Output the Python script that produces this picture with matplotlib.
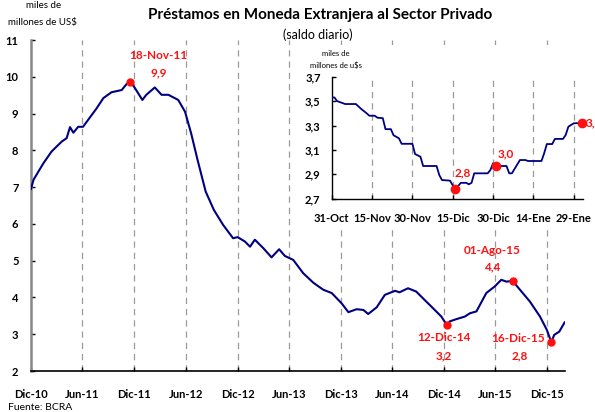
import matplotlib
matplotlib.use("Agg")
import matplotlib.pyplot as plt
import pandas as pd
from matplotlib.patches import Rectangle

plt.rcParams['font.family'] = ['Lato', 'DejaVu Sans']

# ---------------- data ----------------
main_dates = ["2010-12-01", "2010-12-10", "2010-12-27", "2011-01-14", "2011-02-12", "2011-03-20",
              "2011-04-06", "2011-04-18", "2011-04-30", "2011-05-17", "2011-06-03", "2011-06-28",
              "2011-07-21", "2011-08-14", "2011-09-12", "2011-10-18", "2011-11-04", "2011-11-18",
              "2011-12-04", "2011-12-30", "2012-01-13", "2012-02-12", "2012-03-07", "2012-03-31",
              "2012-05-05", "2012-05-29", "2012-06-20", "2012-07-12", "2012-08-10", "2012-09-08",
              "2012-10-11", "2012-11-15", "2012-12-01", "2012-12-27", "2013-01-14", "2013-01-31",
              "2013-03-02", "2013-03-31", "2013-04-27", "2013-05-17", "2013-06-16", "2013-07-21",
              "2013-08-26", "2013-09-30", "2013-10-30", "2013-12-04", "2013-12-28", "2014-01-26",
              "2014-02-19", "2014-03-08", "2014-04-07", "2014-05-06", "2014-06-11", "2014-06-27",
              "2014-07-27", "2014-08-25", "2014-09-24", "2014-10-23", "2014-11-22", "2014-12-12",
              "2014-12-22", "2015-01-14", "2015-02-13", "2015-03-03", "2015-03-26", "2015-04-30",
              "2015-05-30", "2015-06-22", "2015-07-10", "2015-08-01", "2015-08-27", "2015-10-01",
              "2015-11-06", "2015-11-30", "2015-12-11", "2015-12-16", "2015-12-26", "2016-01-13",
              "2016-02-01"]
main_values = [6.95, 7.20, 7.42, 7.65, 7.97, 8.24,
               8.33, 8.63, 8.48, 8.64, 8.64, 8.90,
               9.14, 9.42, 9.58, 9.64, 9.80, 9.87,
               9.69, 9.37, 9.51, 9.71, 9.51, 9.51,
               9.37, 9.05, 8.45, 7.75, 6.88, 6.38,
               5.97, 5.61, 5.64, 5.52, 5.38, 5.57,
               5.34, 5.09, 5.31, 5.13, 5.02, 4.66,
               4.40, 4.21, 4.12, 3.84, 3.60, 3.68,
               3.66, 3.55, 3.73, 4.07, 4.18, 4.14,
               4.25, 4.16, 3.93, 3.71, 3.48, 3.24,
               3.35, 3.41, 3.48, 3.57, 3.62, 4.12,
               4.30, 4.48, 4.43, 4.45, 4.21, 3.89,
               3.48, 3.12, 2.89, 2.78, 2.98, 3.07,
               3.32]

main_tick_dates = ["2010-12-01", "2011-06-01", "2011-12-01", "2012-06-01", "2012-12-01", "2013-06-01",
                   "2013-12-01", "2014-06-01", "2014-12-01", "2015-06-01", "2015-12-01"]
main_tick_labels = ["Dic-10", "Jun-11", "Dic-11", "Jun-12", "Dic-12", "Jun-13",
                    "Dic-13", "Jun-14", "Dic-14", "Jun-15", "Dic-15"]

main_mark_dates = ["2011-11-18", "2014-12-12", "2015-08-01", "2015-12-16"]
main_mark_values = [9.87, 3.24, 4.45, 2.78]
main_mark_date_labels = ["18-Nov-11", "12-Dic-14", "01-Ago-15", "16-Dic-15"]
main_mark_value_labels = ["9,9", "3,2", "4,4", "2,8"]

inset_dates = ["2015-10-31", "2015-11-01", "2015-11-02", "2015-11-05", "2015-11-09", "2015-11-11",
               "2015-11-13", "2015-11-14", "2015-11-16", "2015-11-17", "2015-11-19", "2015-11-20",
               "2015-11-22", "2015-11-23", "2015-11-25", "2015-11-26", "2015-11-30", "2015-12-01",
               "2015-12-03", "2015-12-04", "2015-12-09", "2015-12-10", "2015-12-11", "2015-12-14",
               "2015-12-15", "2015-12-16", "2015-12-18", "2015-12-20", "2015-12-21", "2015-12-22",
               "2015-12-23", "2015-12-28", "2015-12-29", "2015-12-30", "2015-12-31", "2016-01-02",
               "2016-01-04", "2016-01-05", "2016-01-06", "2016-01-09", "2016-01-11", "2016-01-12",
               "2016-01-17", "2016-01-18", "2016-01-19", "2016-01-21", "2016-01-22", "2016-01-25",
               "2016-01-26", "2016-01-27", "2016-01-29", "2016-01-31", "2016-02-01"]
inset_values = [3.53, 3.53, 3.50, 3.476, 3.476, 3.435,
                3.40, 3.38, 3.38, 3.364, 3.36, 3.27,
                3.27, 3.22, 3.195, 3.15, 3.15, 3.066,
                3.044, 2.968, 2.968, 2.894, 2.853, 2.848,
                2.81, 2.777, 2.83, 2.83, 2.818, 2.83,
                2.908, 2.908, 2.935, 2.99, 2.968, 2.968,
                2.968, 2.908, 2.908, 3.017, 3.017, 3.009,
                3.009, 3.072, 3.148, 3.148, 3.19, 3.19,
                3.222, 3.29, 3.318, 3.32, 3.32]

inset_tick_dates = ["2015-10-31", "2015-11-15", "2015-11-30", "2015-12-15", "2015-12-30",
                    "2016-01-14", "2016-01-29"]
inset_tick_labels = ["31-Oct", "15-Nov", "30-Nov", "15-Dic", "30-Dic", "14-Ene", "29-Ene"]
inset_yticks = [2.7, 2.9, 3.1, 3.3, 3.5, 3.7]
inset_ytick_labels = ["2,7", "2,9", "3,1", "3,3", "3,5", "3,7"]

inset_mark_dates = ["2015-12-16", "2015-12-31", "2016-02-01"]
inset_mark_values = [2.777, 2.968, 3.32]
inset_mark_labels = ["2,8", "3,0", "3,3"]

# ---------------- style ----------------
NAVY = "#000080"
RED = "#FF1010"
GRID = "#9a9a9a"

md = pd.to_datetime(main_dates)
mtd = pd.to_datetime(main_tick_dates)
imd = pd.to_datetime(inset_dates)
itd = pd.to_datetime(inset_tick_dates)

fig = plt.figure(figsize=(5.95, 4.12), dpi=100)
fig.patch.set_facecolor("white")

ax = fig.add_axes([31 / 595, 1 - 371 / 412, 533.6 / 595, 331 / 412])
ax.plot(md, main_values, color=NAVY, lw=1.5, zorder=3)
ax.set_xlim(pd.Timestamp("2010-12-01"), pd.Timestamp("2016-02-01"))
ax.set_ylim(2, 11)
ax.set_yticks(range(2, 12))
ax.set_yticklabels([str(v) for v in range(2, 12)], fontweight="bold", fontsize=8)
ax.set_xticks(mtd)
ax.set_xticklabels(main_tick_labels, fontweight="bold", fontsize=8)
ax.tick_params(axis="y", direction="in", length=3, width=1, color="black", pad=9)
ax.tick_params(axis="x", direction="in", length=3, width=1, color="black", pad=13)
for d in mtd[1:]:
    ax.axvline(d, color=GRID, lw=0.9, dashes=(5, 4), zorder=1)
for s in ["top", "right"]:
    ax.spines[s].set_visible(False)
ax.spines["left"].set_color("#888888")
ax.spines["left"].set_linewidth(1.8)
ax.spines["bottom"].set_color("black")
ax.spines["bottom"].set_linewidth(1.2)

md_mark = pd.to_datetime(main_mark_dates)
ax.plot(md_mark, main_mark_values, "o", color=RED, ms=5, zorder=4, clip_on=False)
offsets = [((20, 19), (20, 6)), ((-2, -9), (-2, -22)), ((-15, 22), (-15, 10)), ((-24, 3), (-23, -10))]
for d, v, dl, vl, (o1, o2) in zip(md_mark, main_mark_values, main_mark_date_labels,
                                   main_mark_value_labels, offsets):
    ax.annotate(dl, (d, v), xytext=o1, textcoords="offset points", ha="center", va="center",
                color=RED, fontweight="bold", fontsize=8.5)
    ax.annotate(vl, (d, v), xytext=o2, textcoords="offset points", ha="center", va="center",
                color=RED, fontweight="bold", fontsize=8.5)

# white panel behind inset
fig.add_artist(Rectangle((300 / 595, 1 - 230 / 412), 295 / 595, 185 / 412,
                         transform=fig.transFigure, facecolor="white", edgecolor="none", zorder=1))

ax2 = fig.add_axes([331.7 / 595, 1 - 198.7 / 412, 251 / 595, 122 / 412], zorder=2)
ax2.patch.set_alpha(0)
ax2.plot(imd, inset_values, color=NAVY, lw=1.3, zorder=3)
ax2.set_xlim(pd.Timestamp("2015-10-31"), pd.Timestamp("2016-02-01 08:00"))
ax2.set_ylim(2.7, 3.7)
ax2.set_yticks(inset_yticks)
ax2.set_yticklabels(inset_ytick_labels, fontweight="bold", fontsize=8)
ax2.set_xticks(itd)
ax2.set_xticklabels(inset_tick_labels, fontweight="bold", fontsize=8)
ax2.tick_params(axis="y", direction="in", length=3, width=1, pad=8)
ax2.tick_params(axis="x", direction="in", length=3, width=1, pad=10)
for d in itd[1:]:
    ax2.axvline(d, color=GRID, lw=0.9, dashes=(5, 4), zorder=1)
for s in ["top", "right"]:
    ax2.spines[s].set_visible(False)
for s in ["left", "bottom"]:
    ax2.spines[s].set_linewidth(1.0)

imd_mark = pd.to_datetime(inset_mark_dates)
ax2.plot(imd_mark, inset_mark_values, "o", color=RED, ms=6, zorder=4, clip_on=False)
ioff = [((5, 12), "center"), ((7, 9), "center"), ((3, 0), "left")]
for d, v, lab, (o, ha) in zip(imd_mark, inset_mark_values, inset_mark_labels, ioff):
    ax2.annotate(lab, (d, v), xytext=o, textcoords="offset points", ha=ha, va="center",
                 color=RED, fontweight="bold", fontsize=8.5, annotation_clip=False)

fig.text(336 / 595, 1 - 53 / 412, "miles de", ha="center", va="center", fontsize=5.5)
fig.text(336 / 595, 1 - 65 / 412, "millones de u$s", ha="center", va="center", fontsize=5.5)

# titles & labels
fig.text(320 / 595, 1 - 15 / 412, "Préstamos en Moneda Extranjera al Sector Privado",
         ha="center", va="center", fontsize=11, fontweight="bold")
fig.text(318 / 595, 1 - 35 / 412, "(saldo diario)", ha="center", va="center", fontsize=9)
fig.text(44 / 595, 1 - 6 / 412, "miles de", ha="center", va="center", fontsize=7)
fig.text(42 / 595, 1 - 22 / 412, "millones de US$", ha="center", va="center", fontsize=7)
fig.text(8 / 595, 1 - 408 / 412, "Fuente: BCRA", ha="left", va="center", fontsize=7.5)

fig.savefig("out.png", dpi=100, facecolor="white")
